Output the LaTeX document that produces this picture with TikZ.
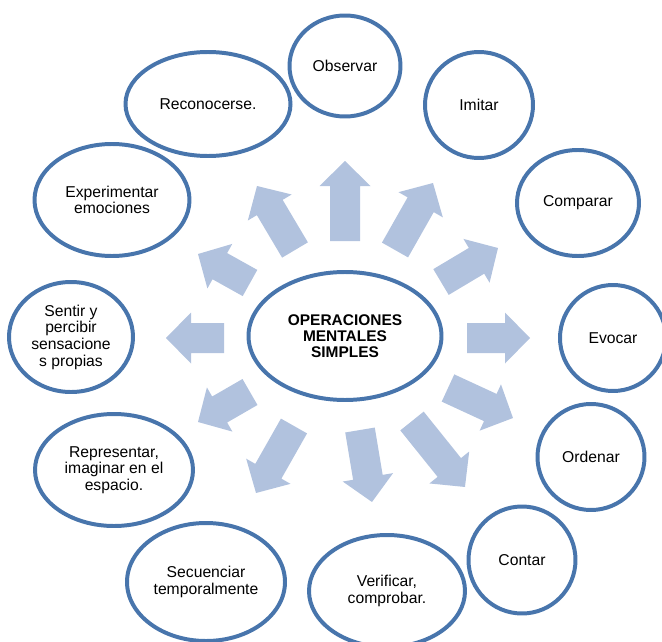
\documentclass[tikz,border=0pt]{standalone}
\usepackage{fontspec}
\setmainfont{Liberation Sans}
\usetikzlibrary{shapes.geometric}
\definecolor{RingBlue}{RGB}{72,117,172}
\definecolor{ArrowBlue}{RGB}{177,194,222}

\begin{document}
\begin{tikzpicture}[x=0.03cm, y=-0.03cm,
        op/.style 2 args={ellipse, draw=RingBlue, line width=3.4pt, inner sep=0pt,
            minimum width=#1*0.06cm, minimum height=#2*0.06cm, align=center,
            font=\fontsize{13.4}{14.2}\selectfont}]
                    \useasboundingbox (0,0) rectangle (662,642);
%                    arrows out of the centre
                    \foreach \bx/\by/\tx/\ty in {345/241/345/161, 295/250/257/186, 395/250/433/183,
                        441/282/498/248, 250/283/198/254, 224/338/166/338, 467/338/530/338,
                        250/392/198/422, 294/426/256/493, 360/430/372/502, 412/421/465/487,
                        448/388/513/418} {
                        \pgfmathsetmacro{\ang}{atan2(\by-\ty,\tx-\bx)}
                        \pgfmathsetmacro{\len}{veclen(\tx-\bx,\ty-\by)}
                        \fill[ArrowBlue, shift={(\bx,\by)}, rotate=\ang]
                            (0,-15) -- (\len-25,-15) -- (\len-25,-25.5) -- (\len,0)
                            -- (\len-25,25.5) -- (\len-25,15) -- (0,15) -- cycle;
                    }
%                    centre
                    \node[op={96.5}{64}, font=\fontsize{13.2}{13.5}\selectfont\bfseries] (centro) at (345,336) {OPERACIONES\\MENTALES\\SIMPLES};
%                    ring of operations
                    \node[op={55.5}{50.5}] (observar) at (345,66) {Observar};
                    \node[op={54}{53}] (imitar) at (479,105) {Imitar};
                    \node[op={61}{53}] (comparar) at (578,203) {Comparar};
                    \node[op={53}{53}] (evocar) at (613,338) {Evocar};
                    \node[op={53.5}{53}] (ordenar) at (591,457) {Ordenar};
                    \node[op={53.5}{53.5}] (contar) at (522,560) {Contar};
                    \node[op={78}{56}] (verificar) at (387,591) {Verificar,\\comprobar.};
                    \node[op={79}{59}] (secuenciar) at (206,582) {Secuenciar\\temporalmente};
                    \node[op={79}{56}] (representar) at (114,470) {Representar,\\imaginar en el\\espacio.};
                    \node[op={62}{55}] (sentir) at (71,337) {Sentir y\\percibir\\sensacione\\s propias};
                    \node[op={77.5}{56}] (experimentar) at (112,200) {Experimentar\\emociones};
                    \node[op={82.5}{52}] (reconocerse) at (208,104) {Reconocerse.};

                \end{tikzpicture}
\end{document}
